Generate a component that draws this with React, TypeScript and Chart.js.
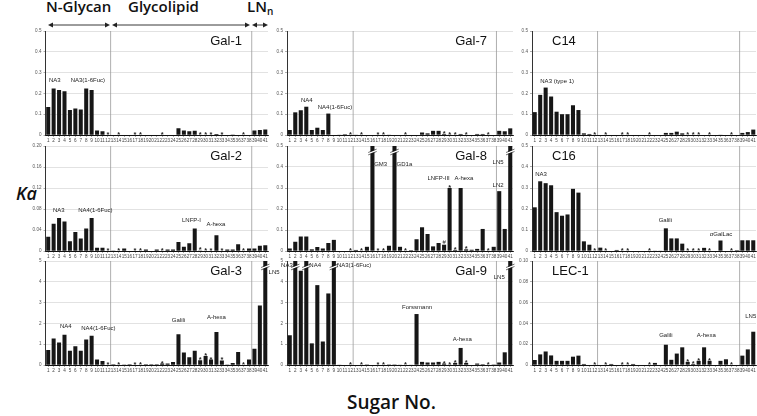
import React, { useEffect, useRef } from "react";
import { Chart, registerables } from "chart.js";
Chart.register(...registerables);

const sugarNumbers = [
  "1", "2", "3", "4", "5", "6", "7", "8", "9", "10", "11", "12", "13", "14",
  "15", "16", "17", "18", "19", "20", "21", "22", "23", "24", "25", "26", "27",
  "28", "29", "30", "31", "32", "33", "34", "35", "36", "37", "38", "39", "40", "41",
];
const markedSugars = [12, 14, 17, 18, 22, 29, 30, 31, 33, 37];
const groupBoundaries = [12.5, 38.5];

const gal1Values = [
  0.135, 0.224, 0.216, 0.21, 0.12, 0.128, 0.123, 0.224, 0.216, 0.022, 0.018, 0,
  0, 0, 0, 0, 0, 0, 0, 0, 0, 0, 0, 0,
  0.032, 0.022, 0.018, 0.02, 0, 0, 0, 0.005, 0, 0, 0.002, 0, 0, 0,
  0.022, 0.024, 0.026,
];
const gal7Values = [
  0.024, 0.109, 0.119, 0.136, 0.024, 0.035, 0.024, 0.103, 0, 0.002, 0.004, 0,
  0.002, 0, 0, 0, 0, 0, 0.002, 0, 0, 0, 0, 0,
  0.012, 0.008, 0.02, 0.02, 0.005, 0.002, 0, 0.005, 0, 0, 0.005, 0.005, 0, 0,
  0.02, 0.018, 0.032,
];
const c14Values = [
  0.11, 0.193, 0.228, 0.185, 0.112, 0.1, 0.1, 0.143, 0.12, 0.008, 0.005, 0,
  0, 0, 0, 0, 0, 0, 0, 0, 0, 0, 0, 0,
  0.01, 0.01, 0.016, 0.008, 0, 0, 0, 0, 0, 0, 0.002, 0, 0, 0,
  0.01, 0.014, 0.026,
];
const gal2Values = [
  0.027, 0.052, 0.063, 0.056, 0.0185, 0.036, 0.024, 0.043, 0.063, 0.006, 0.006, 0,
  0.001, 0, 0.005, 0, 0, 0, 0.003, 0, 0.003, 0, 0.003, 0.003,
  0.017, 0.008, 0.015, 0.043, 0.001, 0, 0, 0.03, 0, 0.003, 0.003, 0.013, 0, 0.005,
  0.005, 0.01, 0.011,
];
const gal8Values = [
  0.012, 0.044, 0.069, 0.069, 0.008, 0.019, 0.012, 0.038, 0.053, 0, 0, 0,
  0.005, 0, 0.02, 0.6, 0, 0, 0.025, 0.6, 0.02, 0, 0.004, 0.056,
  0.113, 0.081, 0.022, 0.038, 0.03, 0.3, 0.005, 0.3, 0.008, 0.006, 0.01, 0.105, 0, 0.02,
  0.285, 0.105, 0.6,
];
const c16Values = [
  0.208, 0.332, 0.323, 0.313, 0.185, 0.168, 0.174, 0.296, 0.278, 0.046, 0.03, 0,
  0.016, 0, 0, 0.005, 0, 0, 0, 0, 0, 0, 0.002, 0.002,
  0.108, 0.06, 0.06, 0.035, 0, 0, 0, 0.015, 0, 0, 0.05, 0, 0, 0.004,
  0.051, 0.051, 0.051,
];
const gal3Values = [
  0.72, 1.27, 1.08, 1.46, 0.68, 0.9, 0.68, 1.22, 1.41, 0.26, 0.19, 0,
  0.04, 0, 0.02, 0.04, 0, 0, 0.04, 0.04, 0.04, 0.07, 0.07, 0.15,
  1.48, 0.6, 0.37, 0.68, 0.23, 0.43, 0.26, 1.59, 0.22, 0.02, 0.1, 0.62, 0, 0.27,
  0.78, 2.86, 6,
];
const gal9Values = [
  1.43, 6, 4.53, 6, 1.04, 3.84, 1.13, 3.44, 6, 0.02, 0, 0,
  0, 0, 0.03, 0, 0, 0, 0.03, 0.03, 0.02, 0, 0.01, 2.45,
  0.15, 0.12, 0.12, 0.15, 0.07, 0.02, 0.1, 0.82, 0.1, 0, 0.07, 0.04, 0, 0.03,
  0.12, 0.61, 6,
];
const lec1Values = [
  0.0048, 0.0102, 0.013, 0.0092, 0.004, 0.004, 0.004, 0.008, 0.009, 0.001, 0, 0,
  0, 0, 0.001, 0, 0, 0, 0.001, 0, 0, 0, 0.002, 0,
  0.0195, 0.005, 0.011, 0.017, 0.003, 0.001, 0.004, 0.017, 0.004, 0, 0.004, 0.0055, 0, 0,
  0.009, 0.015, 0.032,
];

type Label = { text: string; at: number; value: number; align?: CanvasTextAlign };

const gal1Labels: Label[] = [
  { text: "NA3", at: 2.2, value: 0.263 },
  { text: "NA3(1-6Fuc)", at: 8.3, value: 0.263 },
];
const gal7Labels: Label[] = [
  { text: "NA4", at: 4.1, value: 0.168 },
  { text: "NA4(1-6Fuc)", at: 9.2, value: 0.133 },
];
const c14Labels: Label[] = [{ text: "NA3 (type 1)", at: 5.1, value: 0.256 }];
const gal2Labels: Label[] = [
  { text: "NA3", at: 2.95, value: 0.0767 },
  { text: "NA4(1-6Fuc)", at: 9.7, value: 0.0767 },
  { text: "LNFP-I", at: 27.4, value: 0.0588 },
  { text: "A-hexa", at: 31.9, value: 0.051 },
];
const gal8Labels: Label[] = [
  { text: "GM3", at: 17.5, value: 0.415 },
  { text: "GD1a", at: 21.8, value: 0.415 },
  { text: "LNFP-III", at: 28.0, value: 0.346 },
  { text: "A-hexa", at: 32.6, value: 0.346 },
  { text: "LN5", at: 38.8, value: 0.423 },
  { text: "LN2", at: 38.8, value: 0.313 },
];
const c16Labels: Label[] = [
  { text: "NA3", at: 2.15, value: 0.364 },
  { text: "Galili", at: 24.9, value: 0.147 },
  { text: "αGalLac", at: 35.1, value: 0.08 },
];
const gal3Labels: Label[] = [
  { text: "NA4", at: 4.24, value: 1.85 },
  { text: "NA4(1-6Fuc)", at: 10.25, value: 1.77 },
  { text: "Galili", at: 25, value: 2.17 },
  { text: "A-hexa", at: 32, value: 2.27 },
  { text: "LN5", at: 41.6, value: 4.45, align: "left" },
];
const gal9Labels: Label[] = [
  { text: "NA3", at: 1.55, value: 4.78, align: "right" },
  { text: "NA4", at: 4.55, value: 4.78, align: "left" },
  { text: "NA3(1-6Fuc)", at: 9.55, value: 4.78, align: "left" },
  { text: "Forssmann", at: 24.1, value: 2.77 },
  { text: "A-hexa", at: 32.3, value: 1.24 },
  { text: "LN5", at: 39, value: 4.2 },
];
const lec1Labels: Label[] = [
  { text: "Galili", at: 25, value: 0.0287 },
  { text: "A-hexa", at: 32.4, value: 0.0287 },
  { text: "LN5", at: 41.55, value: 0.047, align: "right" },
];

type Panel = {
  name: string;
  values: number[];
  max: number;
  step: number;
  labels: Label[];
  side: "left" | "right";
  col: number;
  row: number;
  marks?: Record<number, string>;
};

const panels: Panel[] = [
  { name: "Gal-1", values: gal1Values, max: 0.5, step: 0.1, labels: gal1Labels, side: "right", col: 0, row: 0 },
  { name: "Gal-7", values: gal7Values, max: 0.5, step: 0.1, labels: gal7Labels, side: "right", col: 1, row: 0 },
  { name: "C14", values: c14Values, max: 0.5, step: 0.1, labels: c14Labels, side: "left", col: 2, row: 0 },
  { name: "Gal-2", values: gal2Values, max: 0.2, step: 0.04, labels: gal2Labels, side: "right", col: 0, row: 1 },
  { name: "Gal-8", values: gal8Values, max: 0.5, step: 0.1, labels: gal8Labels, side: "right", col: 1, row: 1, marks: { 29: "#" } },
  { name: "C16", values: c16Values, max: 0.5, step: 0.1, labels: c16Labels, side: "left", col: 2, row: 1 },
  { name: "Gal-3", values: gal3Values, max: 5, step: 1, labels: gal3Labels, side: "right", col: 0, row: 2 },
  { name: "Gal-9", values: gal9Values, max: 5, step: 1, labels: gal9Labels, side: "right", col: 1, row: 2 },
  { name: "LEC-1", values: lec1Values, max: 0.1, step: 0.02, labels: lec1Labels, side: "left", col: 2, row: 2 },
];

const COLS = [
  { left: 45.5, right: 268, canvasLeft: 20, pr: 14 },
  { left: 287, right: 513, canvasLeft: 262, pr: 12 },
  { left: 532, right: 756, canvasLeft: 507, pr: 1 },
];
const ROWS = [
  { top: 31, bottom: 135, canvasTop: 24 },
  { top: 146, bottom: 250.5, canvasTop: 139 },
  { top: 261, bottom: 365, canvasTop: 254 },
];
const X_H = 12;
const SANS = "'Liberation Sans', Arial, sans-serif";

function makeDeco(p: Panel) {
  return {
    id: "panelDeco",
    beforeDatasetsDraw(chart: any) {
      const { ctx, chartArea: a } = chart;
      const x = chart.scales.x;
      ctx.save();
      ctx.strokeStyle = "#9a9a9a";
      ctx.lineWidth = 0.8;
      for (const b of groupBoundaries) {
        const px = x.getPixelForValue(b - 1);
        ctx.beginPath();
        ctx.moveTo(px, a.top);
        ctx.lineTo(px, a.bottom);
        ctx.stroke();
      }
      ctx.restore();
    },
    afterDatasetsDraw(chart: any) {
      const { ctx, chartArea: a } = chart;
      const x = chart.scales.x;
      const y = chart.scales.y;
      const meta = chart.getDatasetMeta(0);
      ctx.save();
      // breaks
      p.values.forEach((v, i) => {
        if (v <= p.max) return;
        const el = meta.data[i];
        const cx = el.x;
        const hw = el.width / 2 + 1.2;
        const yb = a.top + 6;
        ctx.strokeStyle = "#ffffff";
        ctx.lineWidth = 1.6;
        ctx.beginPath();
        ctx.moveTo(cx - hw, yb + 1.2);
        ctx.lineTo(cx + hw, yb - 1.2);
        ctx.stroke();
        ctx.strokeStyle = "#111";
        ctx.lineWidth = 0.6;
        for (const d of [-1.2, 1.2]) {
          ctx.beginPath();
          ctx.moveTo(cx - hw - 1, yb + 1.2 + d + 0.5);
          ctx.lineTo(cx + hw + 1, yb - 1.2 + d - 0.5);
          ctx.stroke();
        }
      });
      // asterisks
      ctx.fillStyle = "#222";
      ctx.textAlign = "center";
      ctx.textBaseline = "alphabetic";
      for (const n of markedSugars) {
        const v = Math.min(p.values[n - 1], p.max);
        const sym = (p.marks && p.marks[n]) || "*";
        ctx.font = sym === "*" ? `bold 7.5px ${SANS}` : `6px ${SANS}`;
        const py = y.getPixelForValue(v);
        ctx.fillText(sym, x.getPixelForValue(n - 1), py + (sym === "*" ? 2 : -1));
      }
      // labels
      ctx.font = `6px ${SANS}`;
      ctx.textBaseline = "middle";
      ctx.fillStyle = "#222";
      for (const l of p.labels) {
        ctx.textAlign = l.align || "center";
        ctx.fillText(l.text, x.getPixelForValue(l.at - 1), y.getPixelForValue(l.value));
      }
      // title
      ctx.font = `13px ${SANS}`;
      ctx.fillStyle = "#111";
      ctx.textBaseline = "middle";
      if (p.side === "right") {
        ctx.textAlign = "right";
        ctx.fillText(p.name, a.right - 26, a.top + 10);
      } else {
        ctx.textAlign = "left";
        ctx.fillText(p.name, a.left + 20, a.top + 10);
      }
      ctx.restore();
    },
  };
}

function PanelChart({ p }: { p: Panel }) {
  const ref = useRef<HTMLCanvasElement | null>(null);
  const c = COLS[p.col];
  const r = ROWS[p.row];
  const width = Math.ceil(c.right + c.pr - c.canvasLeft);
  const height = Math.ceil(r.bottom + X_H - r.canvasTop);
  useEffect(() => {
    if (!ref.current) return;
    const yW = c.left - c.canvasLeft;
    const chart = new Chart(ref.current, {
      type: "bar",
      data: {
        labels: sugarNumbers,
        datasets: [
          {
            data: p.values,
            backgroundColor: "#161616",
            borderWidth: 0,
            categoryPercentage: 1,
            barPercentage: 0.74,
          },
        ],
      },
      options: {
        animation: false,
        responsive: false,
        maintainAspectRatio: false,
        devicePixelRatio: 1,
        layout: { padding: { top: r.top - r.canvasTop, left: 0, right: width - (c.right - c.canvasLeft), bottom: 0 } },
        plugins: { legend: { display: false }, tooltip: { enabled: false }, title: { display: false } },
        scales: {
          x: {
            offset: true,
            grid: { display: true, drawOnChartArea: false, offset: false, tickLength: 2, tickColor: "#777", lineWidth: 0.6 },
            border: { display: true, color: "#111", width: 1 },
            ticks: {
              autoSkip: false,
              maxRotation: 0,
              minRotation: 0,
              padding: 0.5,
              color: "#444",
              font: { size: 4.6, family: SANS },
            },
            afterFit: (s: any) => {
              s.height = X_H;
            },
          },
          y: {
            min: 0,
            max: p.max,
            grid: { color: "#cfcfcf", lineWidth: 0.6, tickLength: 2, tickColor: "#777" },
            border: { display: true, color: "#333", width: 1 },
            ticks: {
              stepSize: p.step,
              padding: 2,
              color: "#555",
              font: { size: 4.6, family: SANS },
            },
            afterFit: (s: any) => {
              s.width = yW;
            },
          },
        },
      },
      plugins: [makeDeco(p)],
    } as any);
    return () => chart.destroy();
  }, []);
  return (
    <canvas
      ref={ref}
      width={width}
      height={height}
      style={{ position: "absolute", left: c.canvasLeft, top: r.canvasTop, width, height }}
    />
  );
}

const HEAD_FONT = "'Open Sans', 'DejaVu Sans', sans-serif";

export default function App() {
  return (
    <div
      style={{
        position: "absolute",
        left: 0,
        top: 0,
        width: 757,
        height: 416,
        background: "#fff",
        overflow: "hidden",
        fontFamily: HEAD_FONT,
      }}
    >
      <div style={{ position: "absolute", left: 46, top: -3, fontSize: 15, fontWeight: 600, color: "#111", lineHeight: "18px" }}>
        N-Glycan
      </div>
      <div style={{ position: "absolute", left: 128, top: -3, fontSize: 15, fontWeight: 600, color: "#111", lineHeight: "18px" }}>
        Glycolipid
      </div>
      <div style={{ position: "absolute", left: 247, top: -3, fontSize: 15, fontWeight: 600, color: "#111", lineHeight: "18px", whiteSpace: "nowrap" }}>
        LN<sub style={{ fontSize: 10, verticalAlign: "-3px", lineHeight: 0 }}>n</sub>
      </div>
      <svg style={{ position: "absolute", left: 0, top: 0 }} width={300} height={32}>
        {[
          [48, 110],
          [112, 250],
          [252, 268],
        ].map(([a, b], i) => (
          <g key={i} fill="#222" stroke="#222">
            <line x1={a + 3} y1={25} x2={b - 3} y2={25} strokeWidth={0.9} />
            <polygon points={`${a},25 ${a + 5},22.5 ${a + 5},27.5`} stroke="none" />
            <polygon points={`${b},25 ${b - 5},22.5 ${b - 5},27.5`} stroke="none" />
          </g>
        ))}
      </svg>
      <div style={{ position: "absolute", left: 16, top: 182, fontSize: 18, fontStyle: "italic", fontWeight: 600, color: "#111", lineHeight: "22px" }}>
        Ka
      </div>
      <div style={{ position: "absolute", left: 347, top: 391, fontSize: 19, fontWeight: 600, color: "#111", lineHeight: "22px" }}>
        Sugar No.
      </div>
      {panels.map((p) => (
        <PanelChart key={p.name} p={p} />
      ))}
    </div>
  );
}
